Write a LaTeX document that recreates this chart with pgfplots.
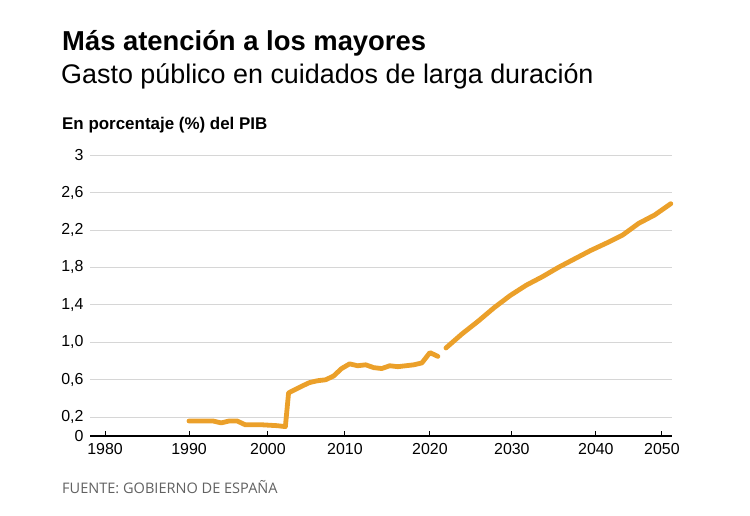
\documentclass[border=0pt]{standalone}
\usepackage{pgfplots}
\pgfplotsset{compat=1.18}
\usepackage{fontspec}
\setmainfont{Liberation Sans}
\newfontfamily\footfont{Open Sans}
\definecolor{lineor}{HTML}{EBA02A}
\definecolor{gridg}{HTML}{D6D6D6}
\begin{document}
\begin{tikzpicture}
\path[use as bounding box] (0,0) rectangle (750bp,516bp);
\node[anchor=base west, inner sep=0pt] at (62bp,465bp) {\fontsize{27.5}{28}\selectfont\bfseries Más atención a los mayores};
\node[anchor=base west, inner sep=0pt] at (61bp,432bp) {\fontsize{27}{28}\selectfont Gasto público en cuidados de larga duración};
\node[anchor=base west, inner sep=0pt] at (62bp,386.5bp) {\fontsize{17}{17}\selectfont\bfseries En porcentaje (\%) del PIB};
\node[anchor=base west, inner sep=0pt, text=black!62] at (62bp,23bp) {\footfont\fontsize{14.6}{15}\selectfont FUENTE: GOBIERNO DE ESPAÑA};
\begin{axis}[
  at={(90bp,80bp)}, anchor=south west,
  scale only axis, width=582bp, height=281bp,
  xmin=1977.67, xmax=2050.15, ymin=0, ymax=3,
  clip=false,
  axis x line*=bottom, axis y line*=left,
  y axis line style={draw=none},
  x axis line style={line width=1.2bp, black, -},
  xtick={1979.54,1990,1999.83,2009.42,2020,2030.21,2040.67,2048.9},
  xticklabels={1980,1990,2000,2010,2020,2030,2040,2050},
  ytick={0,0.2,0.6,1.0,1.4,1.8,2.2,2.6,3},
  yticklabels={0,{0,2},{0,6},{1,0},{1,4},{1,8},{2,2},{2,6},3},
  xtick align=inside,
  major tick length=5bp,
  xtick style={line width=1bp, black},
  ytick style={draw=none},
  ymajorgrids, grid style={gridg, line width=0.8bp},
  ticklabel style={font=\fontsize{16}{16}\selectfont},
  yticklabel style={xshift=-3bp},
  xticklabel style={yshift=-4bp},
]
\addplot[lineor, line width=4.8bp, line join=round, line cap=round] coordinates {
(1990,0.16)(1991,0.16)(1992,0.16)(1993,0.16)(1994,0.14)(1995,0.16)(1996,0.16)
(1997,0.12)(1998,0.12)(1999,0.12)(2000,0.115)(2001,0.11)(2002,0.10)
(2002.4,0.46)(2004,0.53)(2005,0.57)(2006,0.59)(2007,0.60)(2008,0.64)(2009,0.72)
(2010,0.77)(2011,0.75)(2012,0.76)(2013,0.73)(2014,0.72)(2015,0.75)(2016,0.74)
(2017,0.75)(2018,0.76)(2019,0.78)(2020,0.89)(2021,0.85)
};
\addplot[lineor, line width=4.8bp, line join=round, line cap=round] coordinates {
(2022,0.94)(2024,1.09)(2026,1.225)(2028,1.37)(2030,1.50)(2032,1.61)(2034,1.70)
(2036,1.80)(2038,1.89)(2040,1.98)(2042,2.06)(2044,2.145)(2046,2.27)(2048,2.36)(2050,2.48)
};
\end{axis}
\end{tikzpicture}
\end{document}
